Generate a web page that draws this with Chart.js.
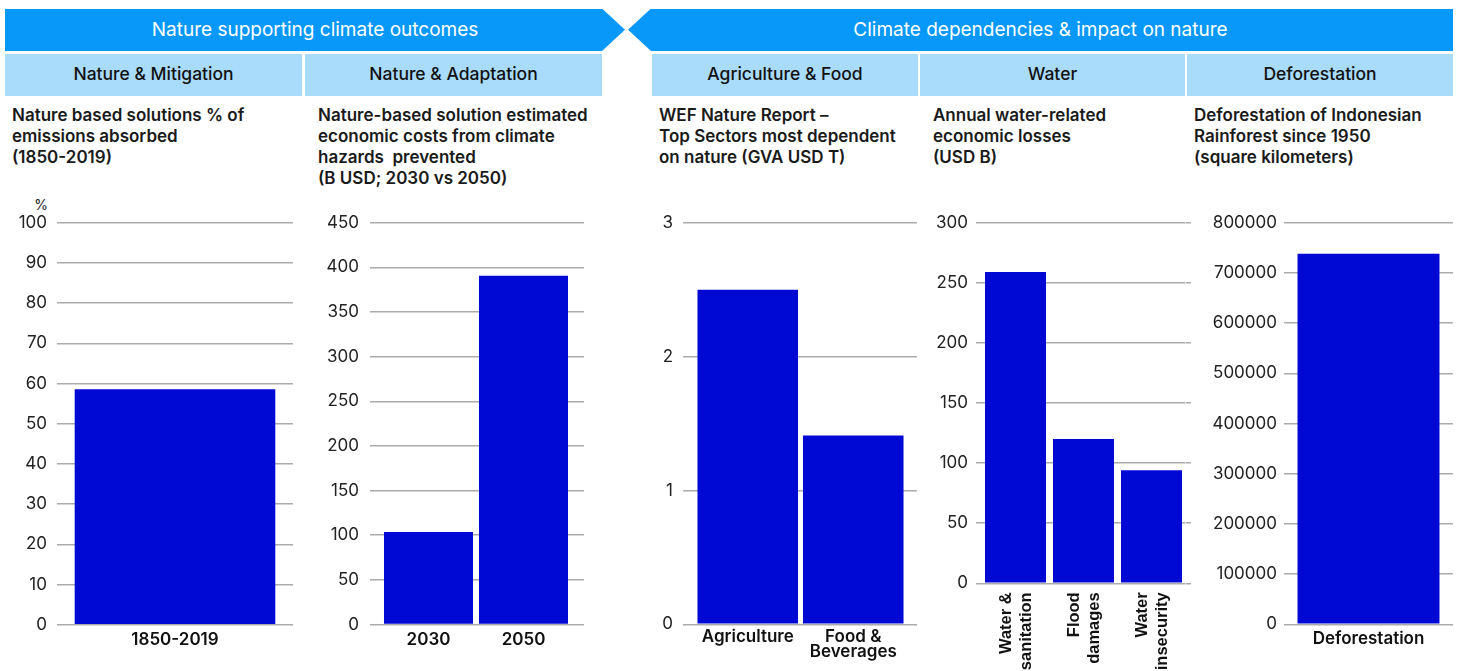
<!DOCTYPE html>
<html>
<head>
<meta charset="utf-8">
<script src="https://cdn.jsdelivr.net/npm/chart.js@4.4.1/dist/chart.umd.min.js"></script>
<style>
  html, body { margin: 0; padding: 0; background: #fff; }
  body { width: 1461px; height: 671px; position: relative; overflow: hidden; font-family: Inter, "Noto Sans", sans-serif; color: #1a1a1a; }
  .banner { position: absolute; top: 8.5px; height: 42.5px; background: #0898f9; color: #fff; font-size: 19px; display: flex; align-items: center; justify-content: center; }
  .sub { position: absolute; top: 53.5px; height: 40px; padding-bottom: 2px; background: #a9dbfb; color: #111; font-size: 17.5px; font-weight: 500; display: flex; align-items: center; justify-content: center; }
  .desc { position: absolute; top: 105px; font-size: 17px; font-weight: 600; line-height: 21px; white-space: pre; color: #1a1a1a; }
  .unit { position: absolute; left: 30px; width: 18px; top: 196px; font-size: 14px; text-align: right; color: #222; }
  canvas { position: absolute; top: 190px; }
</style>
</head>
<body>
<div class="banner" style="left:5px;width:620px;clip-path:polygon(0 0,597px 0,620px 50%,597px 100%,0 100%);">Nature supporting climate outcomes</div>
<div class="banner" style="left:628px;width:825px;clip-path:polygon(0 50%,23px 0,100% 0,100% 100%,23px 100%);">Climate dependencies &amp; impact on nature</div>

<div class="sub" style="left:5px;width:297px;">Nature &amp; Mitigation</div>
<div class="sub" style="left:305px;width:297px;">Nature &amp; Adaptation</div>
<div class="sub" style="left:652px;width:266px;">Agriculture &amp; Food</div>
<div class="sub" style="left:920px;width:265px;">Water</div>
<div class="sub" style="left:1187px;width:266px;">Deforestation</div>

<div class="desc" style="left:12px;">Nature based solutions % of
emissions absorbed
(1850-2019)</div>
<div class="desc" style="left:318px;">Nature-based solution estimated
economic costs from climate
hazards  prevented
(B USD; 2030 vs 2050)</div>
<div class="desc" style="left:659px;">WEF Nature Report –
Top Sectors most dependent
on nature (GVA USD T)</div>
<div class="desc" style="left:933px;">Annual water-related
economic losses
(USD B)</div>
<div class="desc" style="left:1194px;">Deforestation of Indonesian
Rainforest since 1950
(square kilometers)</div>

<div class="unit">%</div>

<canvas id="c1"></canvas>
<canvas id="c2"></canvas>
<canvas id="c3"></canvas>
<canvas id="c4"></canvas>
<canvas id="c5"></canvas>

<script>
// values
const mitigationLabels = ['1850-2019'];
const mitigationValues = [58.6];

const adaptationLabels = ['2030', '2050'];
const adaptationValues = [103.6, 390.5];

const agricultureLabels = ['Agriculture', ['Food &', 'Beverages']];
const agricultureValues = [2.5, 1.41];

const waterLabels = [['Water &', 'sanitation'], ['Flood', 'damages'], ['Water', 'insecurity']];
const waterValues = [259, 120, 94];

const deforestationLabels = ['Deforestation'];
const deforestationValues = [738000];

// y axis max / step per panel
const axisMax = [100, 450, 3, 300, 800000];
const axisStep = [10, 50, 1, 50, 100000];

const BAR = '#0008d4';
const GRID = '#ababab';
const CANVAS_H = 481;
const TOP = 32.7;

function makeBarChart(id, labels, values, max, step, g) {
  const cv = document.getElementById(id);
  cv.width = g.right - g.left;
  cv.height = CANVAS_H;
  cv.style.left = g.left + 'px';
  cv.style.width = cv.width + 'px';
  cv.style.height = CANVAS_H + 'px';

  const scales = {
    x: {
      offset: true,
      grid: { display: false },
      border: { display: false },
      ticks: {
        autoSkip: false,
        maxRotation: g.rot || 0,
        minRotation: g.rot || 0,
        padding: g.xPad,
        labelOffset: g.xShift || 0,
        color: '#111',
        font: g.xFont
      },
      afterFit: (s) => {
        s.height = CANVAS_H - (g.zeroY - 190);
        // keep label overhang from shrinking the plot area
        s.paddingLeft = 0;
        s.paddingRight = 0;
      }
    },
    y: {
      min: 0, max: max,
      border: { display: false },
      grid: { color: GRID, lineWidth: 1.5, drawTicks: g.extL > 0, tickLength: g.extL },
      ticks: {
        stepSize: step,
        padding: g.yPad,
        color: '#222',
        font: { family: 'Inter', size: 17 },
        callback: (v) => String(v)
      },
      afterFit: (s) => { s.width = g.areaL - g.left; }
    }
  };
  if (g.extR > 0) {
    scales.y2 = {
      position: 'right',
      min: 0, max: max,
      border: { display: false },
      grid: { color: GRID, lineWidth: 1.5, drawOnChartArea: false, drawTicks: true, tickLength: g.extR },
      ticks: { stepSize: step, display: false },
      afterFit: (s) => { s.width = g.extR; }
    };
  }

  return new Chart(cv.getContext('2d'), {
    type: 'bar',
    data: {
      labels: labels,
      datasets: [{
        data: values,
        backgroundColor: BAR,
        barPercentage: g.barPct,
        categoryPercentage: 1.0
      }]
    },
    options: {
      responsive: false,
      animation: false,
      devicePixelRatio: 1,
      layout: { padding: { top: TOP, left: 0, right: 0, bottom: 0 } },
      plugins: { legend: { display: false }, tooltip: { enabled: false } },
      scales: scales
    }
  });
}

const boldFont = { family: 'Inter', size: 17, weight: '600' };

makeBarChart('c1', mitigationLabels, mitigationValues, axisMax[0], axisStep[0], {
  left: 0, right: 293, areaL: 57, extL: 0, extR: 0, yPad: 10, xPad: -3,
  zeroY: 624.7, barPct: 0.85, xFont: boldFont
});

makeBarChart('c2', adaptationLabels, adaptationValues, axisMax[1], axisStep[1], {
  left: 300, right: 584, areaL: 381, extL: 11, extR: 13, yPad: 11, xPad: -3,
  zeroY: 624.5, barPct: 0.937, xFont: boldFont
});

makeBarChart('c3', agricultureLabels, agricultureValues, axisMax[2], axisStep[2], {
  left: 620, right: 917, areaL: 695, extL: 12, extR: 11, yPad: 10, xPad: -3,
  zeroY: 624.3, barPct: 0.953,
  xFont: { family: 'Inter', size: 17, weight: '600', lineHeight: 0.9 }
});

makeBarChart('c4', waterLabels, waterValues, axisMax[3], axisStep[3], {
  left: 925, right: 1191, areaL: 981.5, extL: 5.5, extR: 5.5, yPad: 8, xPad: 1,
  zeroY: 583.3, barPct: 0.897, rot: 90, xShift: -9,
  xFont: { family: 'Liberation Sans', size: 16.5, weight: 'bold', lineHeight: 1.22 }
});

makeBarChart('c5', deforestationLabels, deforestationValues, axisMax[4], axisStep[4], {
  left: 1195, right: 1453, areaL: 1284, extL: 0, extR: 0, yPad: 7, xPad: -4,
  zeroY: 624.3, barPct: 0.84, xFont: boldFont
});
</script>
</body>
</html>
